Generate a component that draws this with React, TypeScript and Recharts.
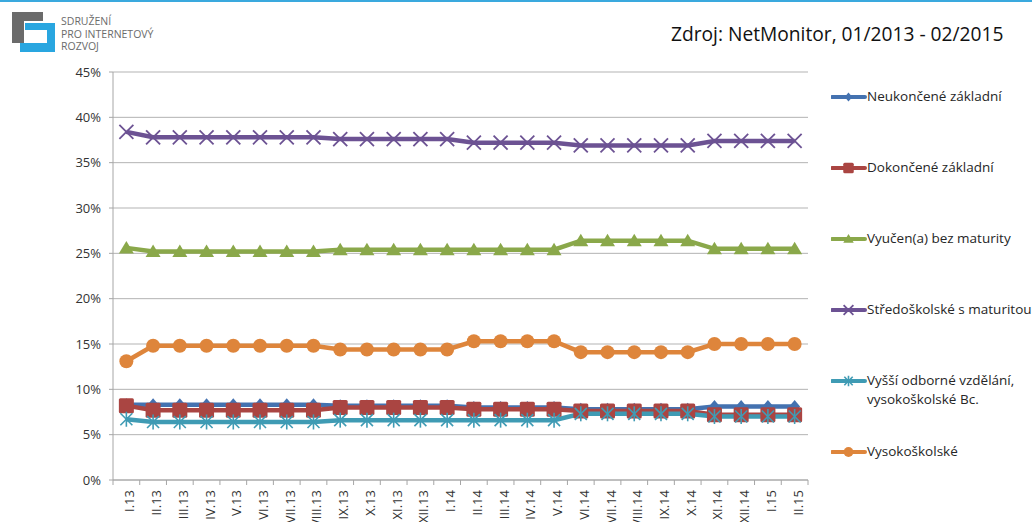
import { LineChart, Line, XAxis, YAxis, CartesianGrid, Legend } from 'recharts'

const MONTHS = [
  'I.13', 'II.13', 'III.13', 'IV.13', 'V.13', 'VI.13', 'VII.13', 'VIII.13', 'IX.13', 'X.13',
  'XI.13', 'XII.13', 'I.14', 'II.14', 'III.14', 'IV.14', 'V.14', 'VI.14', 'VII.14', 'VIII.14',
  'IX.14', 'X.14', 'XI.14', 'XII.14', 'I.15', 'II.15',
]

const NEUKONCENE = [
  8.3, 8.3, 8.3, 8.3, 8.3, 8.3, 8.3, 8.3, 8.2, 8.2, 8.2, 8.2, 8.2,
  8.0, 8.0, 8.0, 8.0, 7.8, 7.8, 7.8, 7.8, 7.8, 8.1, 8.1, 8.1, 8.1,
]
const DOKONCENE = [
  8.2, 7.7, 7.7, 7.7, 7.7, 7.7, 7.7, 7.7, 8.0, 8.0, 8.0, 8.0, 8.0,
  7.8, 7.8, 7.8, 7.8, 7.6, 7.6, 7.6, 7.6, 7.6, 7.2, 7.2, 7.2, 7.2,
]
const VYUCEN = [
  25.6, 25.2, 25.2, 25.2, 25.2, 25.2, 25.2, 25.2, 25.4, 25.4, 25.4, 25.4, 25.4,
  25.4, 25.4, 25.4, 25.4, 26.4, 26.4, 26.4, 26.4, 26.4, 25.5, 25.5, 25.5, 25.5,
]
const STREDOSKOLSKE = [
  38.4, 37.8, 37.8, 37.8, 37.8, 37.8, 37.8, 37.8, 37.6, 37.6, 37.6, 37.6, 37.6,
  37.2, 37.2, 37.2, 37.2, 36.9, 36.9, 36.9, 36.9, 36.9, 37.4, 37.4, 37.4, 37.4,
]
const VYSSI_BC = [
  6.7, 6.4, 6.4, 6.4, 6.4, 6.4, 6.4, 6.4, 6.6, 6.6, 6.6, 6.6, 6.6,
  6.6, 6.6, 6.6, 6.6, 7.3, 7.3, 7.3, 7.3, 7.3, 7.0, 7.0, 7.0, 7.0,
]
const VYSOKOSKOLSKE = [
  13.1, 14.8, 14.8, 14.8, 14.8, 14.8, 14.8, 14.8, 14.4, 14.4, 14.4, 14.4, 14.4,
  15.3, 15.3, 15.3, 15.3, 14.1, 14.1, 14.1, 14.1, 14.1, 15.0, 15.0, 15.0, 15.0,
]

const Y_TICKS = [0, 5, 10, 15, 20, 25, 30, 35, 40, 45]

type Shape = 'diamond' | 'square' | 'triangle' | 'x' | 'asterisk' | 'circle'

const SERIES: { key: string; name: string[]; color: string; shape: Shape; values: number[] }[] = [
  { key: 'neuk', name: ['Neukončené základní'], color: '#4472b0', shape: 'diamond', values: NEUKONCENE },
  { key: 'dok', name: ['Dokončené základní'], color: '#aa4542', shape: 'square', values: DOKONCENE },
  { key: 'vyu', name: ['Vyučen(a) bez maturity'], color: '#8aa84a', shape: 'triangle', values: VYUCEN },
  { key: 'str', name: ['Středoškolské s maturitou'], color: '#6c5293', shape: 'x', values: STREDOSKOLSKE },
  { key: 'vos', name: ['Vyšší odborné vzdělání,', 'vysokoškolské Bc.'], color: '#3f9bb4', shape: 'asterisk', values: VYSSI_BC },
  { key: 'vs', name: ['Vysokoškolské'], color: '#de853b', shape: 'circle', values: VYSOKOSKOLSKE },
]

const data = MONTHS.map((m, i) => {
  const row: Record<string, string | number> = { month: m }
  SERIES.forEach((s) => { row[s.key] = s.values[i] })
  return row
})

// layout of the plot, Excel-like
const PLOT_LEFT = 113
const PLOT_RIGHT = 808
const PLOT_TOP = 72
const PLOT_BOTTOM = 480
const BAND = (PLOT_RIGHT - PLOT_LEFT) / MONTHS.length
const FONT = '"Open Sans", Lato, sans-serif'
const LEGEND_TOPS = [97, 168, 239, 310, 381, 452]

function marker(shape: Shape, cx: number, cy: number, c: string, s = 1) {
  switch (shape) {
    case 'diamond':
      return <path d={`M${cx},${cy - 6.5 * s}L${cx + 5.5 * s},${cy}L${cx},${cy + 6.5 * s}L${cx - 5.5 * s},${cy}Z`} fill={c} />
    case 'square':
      return <rect x={cx - 7.5 * s} y={cy - 7.5 * s} width={15 * s} height={15 * s} rx={1.5} fill={c} />
    case 'triangle':
      return <path d={`M${cx},${cy - 7 * s}L${cx + 7.5 * s},${cy + 5.5 * s}L${cx - 7.5 * s},${cy + 5.5 * s}Z`} fill={c} />
    case 'x': {
      const r = 7 * s
      return (
        <g stroke={c} strokeWidth={1.8}>
          <line x1={cx - r} y1={cy - r} x2={cx + r} y2={cy + r} />
          <line x1={cx - r} y1={cy + r} x2={cx + r} y2={cy - r} />
        </g>
      )
    }
    case 'asterisk': {
      const r = 6 * s
      return (
        <g stroke={c} strokeWidth={1.6}>
          <line x1={cx - r} y1={cy - r} x2={cx + r} y2={cy + r} />
          <line x1={cx - r} y1={cy + r} x2={cx + r} y2={cy - r} />
          <line x1={cx} y1={cy - r * 1.25} x2={cx} y2={cy + r * 1.25} />
        </g>
      )
    }
    default:
      return <circle cx={cx} cy={cy} r={7 * s} fill={c} />
  }
}

function XTick(props: any) {
  const { x, y, payload, index } = props
  const left = x - BAND / 2
  return (
    <g>
      <line x1={left} y1={PLOT_BOTTOM} x2={left} y2={PLOT_BOTTOM + 5} stroke="#a6a6a6" />
      {index === MONTHS.length - 1 && (
        <line x1={left + BAND} y1={PLOT_BOTTOM} x2={left + BAND} y2={PLOT_BOTTOM + 5} stroke="#a6a6a6" />
      )}
      <text
        x={x + 8}
        y={y + 2}
        transform={`rotate(-90, ${x + 8}, ${y + 2})`}
        textAnchor="end"
        fontSize={13}
        fontFamily={FONT}
        fill="#333"
      >
        {payload.value}
      </text>
    </g>
  )
}

function LegendBox() {
  return (
    <div style={{ position: 'absolute', left: 0, top: 0, width: 1032, height: 522, pointerEvents: 'none' }}>
      {SERIES.map((s, i) => (
        <div key={s.key} style={{ position: 'absolute', left: 831, top: LEGEND_TOPS[i] - 10 }}>
          <svg width={36} height={20} style={{ position: 'absolute', left: 0, top: 0 }}>
            <line x1={1} y1={10} x2={34} y2={10} stroke={s.color} strokeWidth={4} strokeLinecap="round" />
            {marker(s.shape, 17.5, 10, s.color, 0.7)}
          </svg>
          <div
            style={{
              position: 'absolute',
              left: 36,
              top: 0,
              fontFamily: FONT,
              fontSize: 13.5,
              lineHeight: '19px',
              color: '#262626',
              whiteSpace: 'nowrap',
            }}
          >
            {s.name.map((n) => <div key={n}>{n}</div>)}
          </div>
        </div>
      ))}
    </div>
  )
}

function Logo() {
  return (
    <div style={{ position: 'absolute', left: 0, top: 0 }}>
      <svg width={60} height={60}>
        <rect x={12} y={12} width={31} height={9} fill="#6b6b6b" />
        <rect x={12} y={12} width={12} height={31} fill="#6b6b6b" />
        <rect x={25} y={23} width={30} height={7} fill="#29a6e0" />
        <rect x={47} y={23} width={8} height={29} fill="#29a6e0" />
        <rect x={20} y={43} width={35} height={9} fill="#29a6e0" />
      </svg>
      <div
        style={{
          position: 'absolute',
          left: 61,
          top: 15,
          fontFamily: FONT,
          fontSize: 10.5,
          lineHeight: '12.5px',
          color: '#6b6b6b',
          whiteSpace: 'nowrap',
        }}
      >
        <div>SDRUŽENÍ</div>
        <div>PRO INTERNETOVÝ</div>
        <div>ROZVOJ</div>
      </div>
    </div>
  )
}

export default function App() {
  return (
    <div style={{ position: 'absolute', left: 0, top: 0, width: 1032, height: 522, background: '#fff', overflow: 'hidden' }}>
      <div style={{ position: 'absolute', left: 0, top: 0, width: 1032, height: 2, background: '#3aa9de' }} />
      <Logo />
      <div
        style={{
          position: 'absolute',
          left: 671,
          top: 20,
          fontFamily: FONT,
          fontSize: 19.2,
          color: '#111',
          whiteSpace: 'nowrap',
        }}
      >
        Zdroj: NetMonitor, 01/2013 - 02/2015
      </div>
      <LineChart
        width={1032}
        height={522}
        data={data}
        margin={{ top: PLOT_TOP, right: 1032 - PLOT_RIGHT, bottom: 0, left: 0 }}
      >
        <CartesianGrid vertical={false} stroke="#b3b3b3" />
        <XAxis
          dataKey="month"
          height={522 - PLOT_BOTTOM}
          interval={0}
          padding={{ left: BAND / 2, right: BAND / 2 }}
          tickLine={false}
          stroke="#a6a6a6"
          tick={<XTick />}
        />
        <YAxis
          width={PLOT_LEFT}
          domain={[0, 45]}
          ticks={Y_TICKS}
          tickFormatter={(v: number) => `${v}%`}
          tickSize={4}
          tickMargin={8}
          stroke="#a6a6a6"
          tick={{ fill: '#333', fontSize: 13, fontFamily: FONT }}
        />
        <Legend
          layout="vertical"
          align="center"
          verticalAlign="middle"
          wrapperStyle={{ left: 0, top: 0, width: 1032, height: 522 }}
          content={() => <LegendBox />}
        />
        {SERIES.map((s) => (
          <Line
            key={s.key}
            dataKey={s.key}
            name={s.name.join(' ')}
            type="linear"
            stroke={s.color}
            strokeWidth={4.5}
            isAnimationActive={false}
            activeDot={false}
            dot={(p: any) => <g key={`${s.key}-${p.index}`}>{marker(s.shape, p.cx, p.cy, s.color)}</g>}
          />
        ))}
      </LineChart>
    </div>
  )
}
